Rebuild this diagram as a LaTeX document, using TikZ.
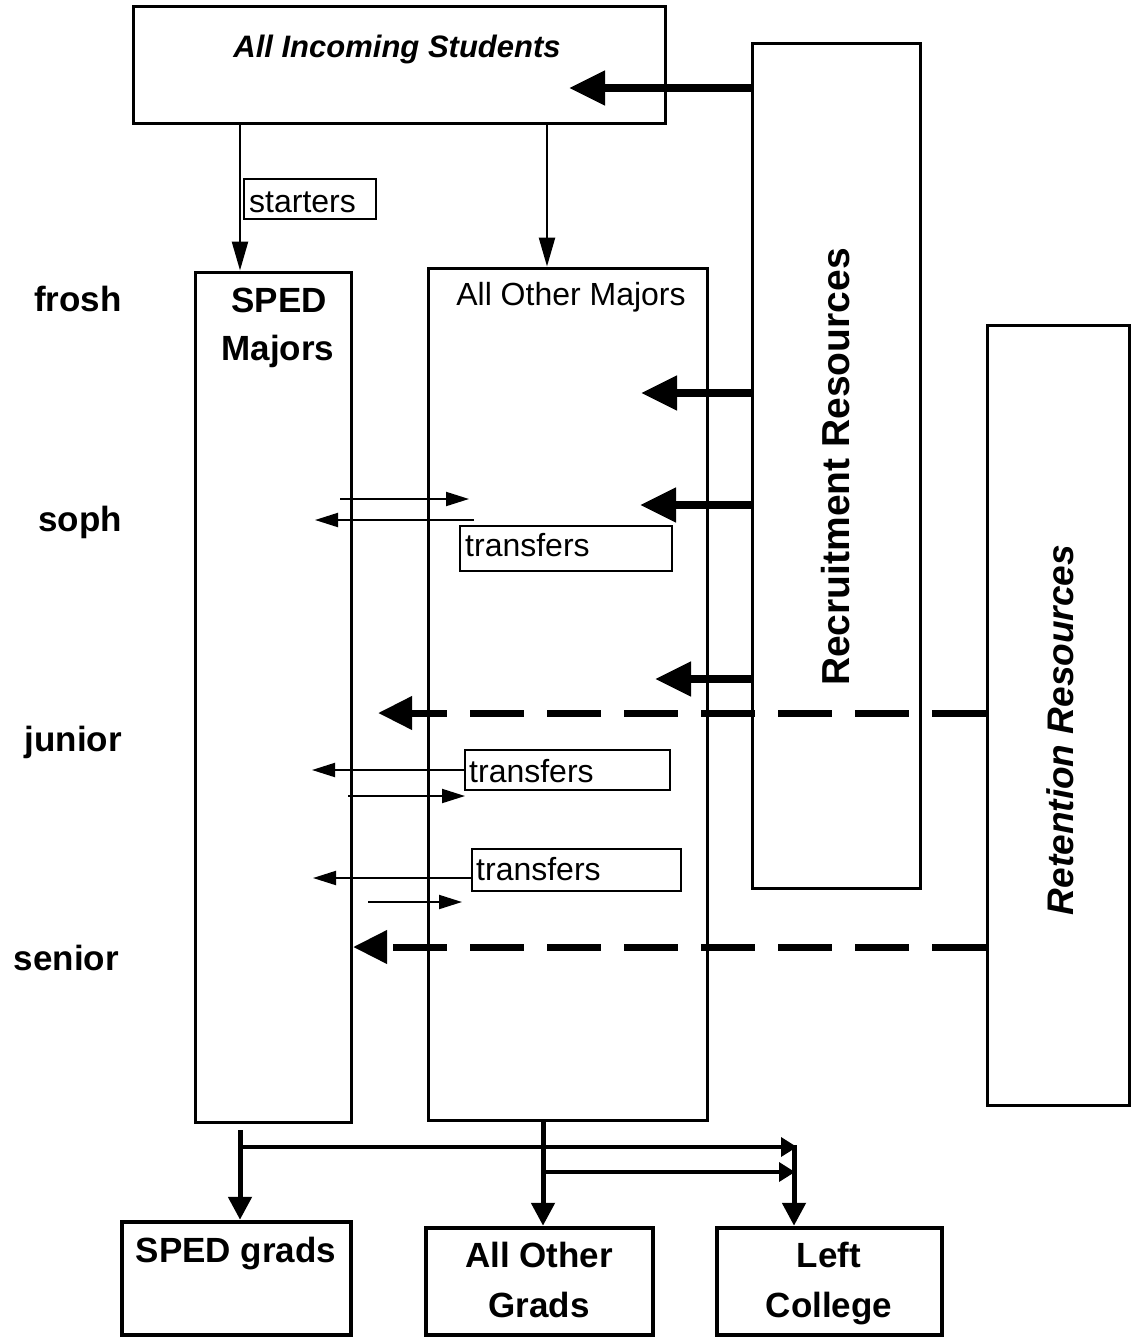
\documentclass[tikz,border=0pt]{standalone}
\usepackage{fontspec}
\setmainfont{Liberation Sans}
\usetikzlibrary{arrows.meta}
\begin{document}
\begin{tikzpicture}[x=1pt,y=-1pt,
  box/.style={draw, line width=3pt, inner sep=0pt},
  gradbox/.style={draw, line width=4.5pt, inner sep=0pt},
  reg/.style={inner sep=0pt, font=\fontsize{32pt}{38pt}\selectfont},
  bld/.style={inner sep=0pt, font=\bfseries\fontsize{35pt}{40pt}\selectfont},
  heavy/.style={line width=8pt, -{Triangle[length=36pt,width=33pt]}},
  dasharrow/.style={line width=7pt, dash pattern=on 54pt off 23pt, -{Triangle[length=34pt,width=32pt]}},
  thinarrow/.style={line width=2pt, -{Triangle[length=23pt,width=14pt]}},
  downarrow/.style={line width=2.5pt, -{Triangle[length=29pt,width=16pt]}},
  botarrow/.style={line width=5pt, -{Triangle[length=23pt,width=23pt]}},
  sidearrow/.style={line width=3.5pt, -{Triangle[length=16pt,width=19pt]}}
]
\useasboundingbox[fill=white] (0,0) rectangle (1131,1338);

% boxes
\node[box, minimum width=532pt, minimum height=116pt] (inc) at (399,65) {};
\node[box, minimum width=168pt, minimum height=844pt] (rec) at (836,466) {};
\node[box, minimum width=142pt, minimum height=780pt] (ret) at (1058,715) {};
\node[box, minimum width=156pt, minimum height=850pt] (sped) at (273,697) {};
\node[box, minimum width=279pt, minimum height=852pt] (aom) at (567.5,694) {};
\node[box, line width=2pt, minimum width=132pt, minimum height=40pt] (st) at (310,199) {};
\node[box, line width=2pt, minimum width=212pt, minimum height=45pt] (t1) at (566,548) {};
\node[box, line width=2pt, minimum width=205pt, minimum height=40pt] (t2) at (567.5,770) {};
\node[box, line width=2pt, minimum width=209pt, minimum height=42pt] (t3) at (576.5,870) {};
\node[gradbox, minimum width=229pt, minimum height=113pt] (spedg) at (236.5,1278.5) {};
\node[gradbox, minimum width=227pt, minimum height=107pt] (aog) at (539.5,1281.5) {};
\node[gradbox, minimum width=225pt, minimum height=107pt] (left) at (829.5,1281.5) {};

% texts
\node[inner sep=0pt, anchor=base, font=\bfseries\itshape\fontsize{31pt}{36pt}\selectfont] (inct) at (397,57) {All Incoming Students};
\node[inner sep=0pt, rotate=90, font=\bfseries\fontsize{39pt}{44pt}\selectfont] (rect) at (836,467) {Recruitment Resources};
\node[inner sep=0pt, rotate=90, font=\bfseries\itshape\fontsize{37pt}{42pt}\selectfont] (rett) at (1060,730) {Retention Resources};
\node[reg, anchor=base west] (stt) at (249,212) {starters};
\node[reg, anchor=base] (aomt) at (571,305) {All Other Majors};
\node[bld, anchor=base] (spt1) at (279,312) {SPED};
\node[bld, anchor=base] (spt2) at (278,360) {Majors};
\node[reg, anchor=base west] (t1t) at (465,556) {transfers};
\node[reg, anchor=base west] (t2t) at (469,782) {transfers};
\node[reg, anchor=base west] (t3t) at (476,880) {transfers};
\node[bld, anchor=base] (sgt) at (236,1262) {SPED grads};
\node[bld, anchor=base] (ag1) at (539,1267) {All Other};
\node[bld, anchor=base] (ag2) at (539,1317) {Grads};
\node[bld, anchor=base] (lc1) at (829,1267) {Left};
\node[bld, anchor=base] (lc2) at (829,1317) {College};

\node[bld, anchor=base east] (fr) at (122,311) {frosh};
\node[bld, anchor=base east] (so) at (122,531) {soph};
\node[bld, anchor=base east] (ju) at (122,751) {junior};
\node[bld, anchor=base east] (se) at (119,970) {senior};

% recruitment arrows
\coordinate (h0) at (569,88);
\coordinate (h1) at (641,393);
\coordinate (h2) at (640,505);
\coordinate (h3) at (655,679);
\draw[heavy] (rec.west |- h0) -- (h0);
\draw[heavy] (rec.west |- h1) -- (h1);
\draw[heavy] (rec.west |- h2) -- (h2);
\draw[heavy] (rec.west |- h3) -- (h3);

% retention arrows
\coordinate (d1) at (378,713);
\coordinate (d2) at (353,947);
\draw[dasharrow] (ret.west |- d1) -- (d1);
\draw[dasharrow] (ret.west |- d2) -- (d2);

% down arrows from incoming
\coordinate (xa) at (240,0);
\coordinate (xb) at (547,0);
\draw[downarrow] (inc.south -| xa) -- (sped.north -| xa);
\draw[downarrow] (inc.south -| xb) -- (aom.north -| xb);

% transfer arrows
\coordinate (s1a) at (340,499); \coordinate (s1b) at (469,499);
\coordinate (s2a) at (474,520); \coordinate (s2b) at (315,520);
\coordinate (s3b) at (312,770);
\coordinate (s4a) at (348,796); \coordinate (s4b) at (465,796);
\coordinate (s5b) at (313,878);
\coordinate (s6a) at (368,902); \coordinate (s6b) at (462,902);
\draw[thinarrow] (s1a) -- (s1b);
\draw[thinarrow] (s2a) -- (s2b);
\draw[thinarrow] (t2.west) -- (s3b);
\draw[thinarrow] (s4a) -- (s4b);
\draw[thinarrow] (t3.west |- s5b) -- (s5b);
\draw[thinarrow] (s6a) -- (s6b);

% bottom flows
\coordinate (bs) at (240,1130);
\coordinate (j1) at (240,1147); \coordinate (e1) at (797,1147);
\coordinate (xc) at (543,0);
\coordinate (j2) at (543,1172); \coordinate (e2) at (795,1172);
\coordinate (v1) at (794,1145);
\draw[botarrow] (bs) -- (spedg.north -| bs);
\draw[botarrow] (aom.south -| xc) -- (aog.north -| xc);
\draw[sidearrow] (j1) -- (e1);
\draw[sidearrow] (j2) -- (e2);
\draw[botarrow] (v1) -- (left.north -| v1);
\end{tikzpicture}
\end{document}
